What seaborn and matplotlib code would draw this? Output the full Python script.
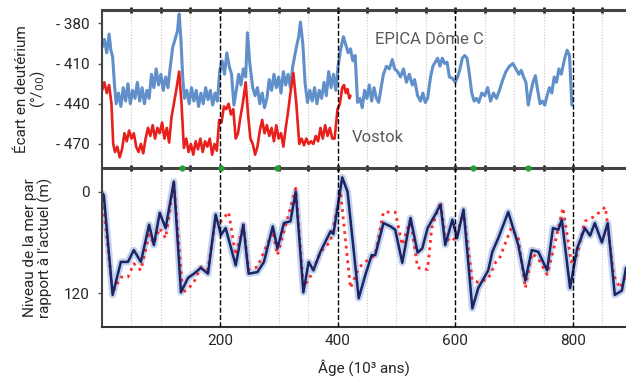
import numpy as np
import pandas as pd
import matplotlib
matplotlib.use('Agg')
import matplotlib.pyplot as plt
import seaborn as sns

# --- data (age in kyr) ---
epica_age = [0, 4, 8, 12, 15, 18, 21, 24, 28, 32, 36, 40, 44, 48, 52, 56, 60, 64, 68, 72,
             76, 80, 84, 88, 92, 96, 100, 104, 108, 112, 116, 120, 124, 128, 131, 134, 137, 140, 144, 148,
             152, 156, 160, 164, 168, 172, 176, 180, 184, 188, 192, 196, 200, 204, 208, 212, 216, 220, 224, 228,
             232, 236, 240, 244, 247, 251, 256, 260, 264, 268, 272, 276, 280, 284, 288, 292, 296, 300, 304, 308,
             312, 316, 320, 324, 330, 334, 337, 341, 345, 349, 353, 357, 361, 365, 369, 373, 377, 381, 385, 389,
             393, 397, 401, 405, 410, 414, 418, 422, 426, 430, 434, 438, 442, 446, 450, 454, 458, 462, 466, 470,
             474, 478, 483, 488, 493, 497, 502, 507, 512, 517, 522, 527, 531, 536, 541, 545, 549, 553, 558, 562,
             566, 570, 574, 578, 582, 586, 590, 595, 600, 604, 608, 612, 616, 620, 624, 628, 632, 636, 640, 645,
             650, 655, 660, 665, 670, 675, 680, 686, 692, 698, 703, 708, 712, 716, 720, 724, 728, 732, 736, 740,
             744, 748, 752, 756, 760, 764, 768, 772, 776, 780, 786, 790, 794, 798]
epica_dd = [-398, -392, -402, -388, -400, -405, -425, -440, -432, -442, -428, -438, -425, -440, -430, -436, -424, -438, -428, -440,
            -430, -436, -418, -428, -414, -426, -418, -430, -420, -428, -412, -398, -392, -386, -373, -392, -420, -436, -430, -440,
            -428, -438, -430, -442, -432, -440, -428, -437, -430, -441, -432, -438, -415, -408, -418, -402, -412, -418, -441, -430,
            -418, -426, -414, -420, -387, -410, -428, -434, -428, -440, -432, -443, -436, -422, -430, -418, -428, -420, -432, -416,
            -426, -418, -428, -412, -398, -390, -379, -395, -425, -439, -430, -438, -428, -440, -430, -436, -424, -434, -416, -428,
            -418, -430, -412, -400, -390, -396, -402, -399, -408, -404, -439, -436, -443, -430, -436, -426, -438, -428, -436, -439,
            -428, -418, -412, -414, -407, -414, -416, -420, -414, -424, -418, -426, -422, -434, -438, -432, -439, -436, -420, -412,
            -409, -406, -412, -406, -410, -409, -420, -421, -424, -420, -414, -406, -404, -406, -418, -432, -438, -436, -439, -432,
            -434, -428, -438, -432, -436, -430, -423, -416, -412, -410, -414, -418, -415, -420, -424, -441, -432, -424, -419, -430,
            -440, -438, -441, -434, -428, -432, -420, -424, -414, -418, -406, -400, -404, -441]

vostok_age = [0, 4, 8, 12, 16, 19, 22, 26, 30, 34, 38, 42, 46, 50, 54, 58, 62, 66, 70, 74,
              78, 82, 86, 90, 94, 98, 102, 106, 110, 114, 118, 122, 126, 131, 135, 139, 143, 147, 151, 155,
              159, 163, 167, 171, 175, 179, 183, 187, 191, 195, 199, 203, 207, 211, 215, 219, 223, 227, 231, 235,
              239, 244, 248, 252, 256, 260, 264, 268, 272, 276, 280, 284, 288, 292, 296, 300, 304, 308, 312, 316,
              320, 325, 330, 335, 339, 343, 347, 351, 355, 359, 363, 367, 371, 375, 379, 383, 387, 391, 395, 400,
              404, 408, 411, 414, 417, 420, 422]
vostok_dd = [-430, -424, -432, -426, -440, -470, -476, -472, -480, -474, -462, -468, -460, -466, -462, -472, -476, -470, -477, -466,
             -458, -464, -456, -466, -458, -462, -454, -466, -458, -469, -450, -440, -430, -416, -440, -473, -466, -476, -470, -478,
             -468, -474, -466, -476, -468, -472, -466, -478, -470, -475, -452, -454, -442, -444, -440, -448, -444, -466, -462, -450,
             -440, -424, -448, -466, -470, -478, -472, -460, -452, -462, -456, -464, -458, -468, -456, -466, -462, -472, -458, -446,
             -432, -417, -440, -470, -466, -471, -466, -470, -468, -470, -464, -468, -458, -466, -456, -464, -458, -466, -466, -444,
             -440, -428, -426, -432, -429, -436, -434]

sea_age = [0, 3, 18, 32, 44, 54, 66, 80, 88, 98, 108, 122, 134, 146, 156, 168, 180, 193, 202, 210,
           227, 240, 249, 264, 275, 290, 298, 309, 320, 329, 342, 351, 359, 371, 388, 393, 408, 417, 436, 447,
           458, 464, 478, 490, 498, 510, 524, 536, 544, 553, 566, 575, 583, 595, 603, 614, 629, 639, 656, 663,
           673, 690, 707, 719, 730, 741, 756, 766, 775, 781, 795, 807, 820, 829, 837, 849, 859, 871, 883, 890]
sea_level = [2, 4, 122, 83, 83, 69, 83, 39, 63, 25, 43, -12, 119, 102, 97, 90, 97, 27, 51, 43,
             87, 39, 97, 95, 83, 41, 67, 37, 35, 0, 119, 83, 93, 71, 47, 50, -17, 0, 126, 99,
             75, 75, 37, 41, 45, 84, 31, 72, 67, 43, 27, 15, 63, 33, 55, 21, 138, 114, 93, 71,
             55, 24, 63, 105, 69, 71, 93, 43, 45, 33, 114, 67, 43, 52, 37, 60, 37, 122, 117, 90]

sea2_age = [0, 18, 32, 44, 54, 66, 80, 88, 98, 108, 122, 137, 146, 156, 168, 180, 193, 202, 215, 227,
            240, 249, 264, 290, 298, 309, 329, 342, 351, 371, 388, 405, 422, 436, 447, 464, 478, 498, 510, 524,
            536, 553, 560, 575, 583, 595, 603, 614, 629, 639, 656, 669, 675, 695, 707, 719, 730, 741, 756, 766,
            783, 797, 807, 820, 837, 855, 869, 880, 890]
sea2_level = [0, 119, 101, 101, 85, 93, 51, 61, 43, 55, -10, 119, 115, 107, 89, 92, 31, 35, 24, 75,
              39, 92, 89, 47, 75, 47, -4, 111, 105, 71, 59, 0, 114, 90, 83, 75, 24, 24, 63, 33,
              90, 92, 43, 12, 55, 59, 50, 24, 105, 107, 103, 83, 79, 43, 55, 114, 73, 79, 98, 71,
              19, 83, 75, 35, 29, 18, 99, 114, 99]

terminations = [135, 202, 297, 630, 724]
dashed_ages = [200, 400, 600, 800]
top_ticks = [-380, -410, -440, -470]
top_ticklabels = ['- 380', '- 410', '- 440', '- 470']
bottom_ticks = [0, 120]
x_ticks = [200, 400, 600, 800]
grid_ages = list(range(50, 900, 50))

epica = pd.DataFrame({'age': epica_age, 'dD': epica_dd})
vostok = pd.DataFrame({'age': vostok_age, 'dD': vostok_dd})
sea = pd.DataFrame({'age': sea_age, 'level': sea_level})
sea2 = pd.DataFrame({'age': sea2_age, 'level': sea2_level})

sns.set_style('white')
plt.rcParams['font.family'] = ['Roboto', 'DejaVu Sans']

fig = plt.figure(figsize=(6.26, 3.82), dpi=100)
ax1 = fig.add_axes([0.163, 0.560, 0.837, 0.414])
ax2 = fig.add_axes([0.163, 0.144, 0.837, 0.416])

# top panel: deuterium
sns.lineplot(data=epica, x='age', y='dD', ax=ax1, color='#4f83c4', lw=2.2, alpha=0.9, estimator=None)
sns.lineplot(data=vostok, x='age', y='dD', ax=ax1, color='#e8201c', lw=1.9, estimator=None)
ax1.set_ylim(-488, -370)
ax1.set_yticks(top_ticks)
ax1.set_yticklabels(top_ticklabels)
ax1.text(464, -392, 'EPICA Dôme C', color='#5a5a5a', fontsize=12, va='center')
ax1.text(425, -465, 'Vostok', color='#5a5a5a', fontsize=12, va='center')
ax1.set_ylabel('Écart en deutérium\n(°/$_{00}$)', fontsize=11, labelpad=6, linespacing=1.0)
ax1.set_xlabel('')

# bottom panel: sea level
sns.lineplot(data=sea, x='age', y='level', ax=ax2, color='#a9c1e6', lw=5, alpha=0.7, estimator=None)
sns.lineplot(data=sea2, x='age', y='level', ax=ax2, color='#ff2a2a', lw=2.0, ls=':', estimator=None)
sns.lineplot(data=sea, x='age', y='level', ax=ax2, color='#1c2466', lw=1.8, estimator=None)
ax2.set_ylim(160, -28)
ax2.set_yticks(bottom_ticks)
ax2.set_ylabel("Niveau de la mer par\nrapport à l'actuel (m)", fontsize=11, labelpad=8, linespacing=1.0)
ax2.set_xlabel('Âge (10³ ans)', fontsize=11, labelpad=8)
ax2.scatter(terminations, [-28] * len(terminations), s=12, color='#22a033',
            zorder=10, clip_on=False)

for ax in (ax1, ax2):
    ax.set_xlim(0, 890)
    ax.set_xticks(grid_ages, minor=True)
    ax.grid(which='minor', axis='x', color='#c8c8c8', ls=':', lw=0.8)
    for a in dashed_ages:
        ax.axvline(a, color='black', ls='--', lw=1.0, zorder=5)
    ax.tick_params(axis='y', left=True, length=3, width=1, color='#555555', labelsize=11, pad=6)
    ax.tick_params(axis='x', which='minor', bottom=False, top=True, direction='inout',
                   length=4, width=2, color='#222222')
    ax.tick_params(axis='x', which='major', bottom=False, top=True, direction='inout',
                   length=4, width=2, color='#222222')
    ax.spines['right'].set_visible(False)
    ax.spines['left'].set_color('#444444')
    ax.spines['left'].set_linewidth(1.5)
    ax.spines['top'].set_color('#444444')
    ax.spines['top'].set_linewidth(2.2)
    ax.spines['bottom'].set_color('#333333')
    ax.spines['bottom'].set_linewidth(1.5)

ax1.set_xticks(x_ticks)
ax1.tick_params(axis='x', labelbottom=False)
ax1.spines['bottom'].set_visible(False)
ax2.set_xticks(x_ticks)
ax2.tick_params(axis='x', labelsize=11, pad=3)

plt.savefig('out.png', dpi=100)
